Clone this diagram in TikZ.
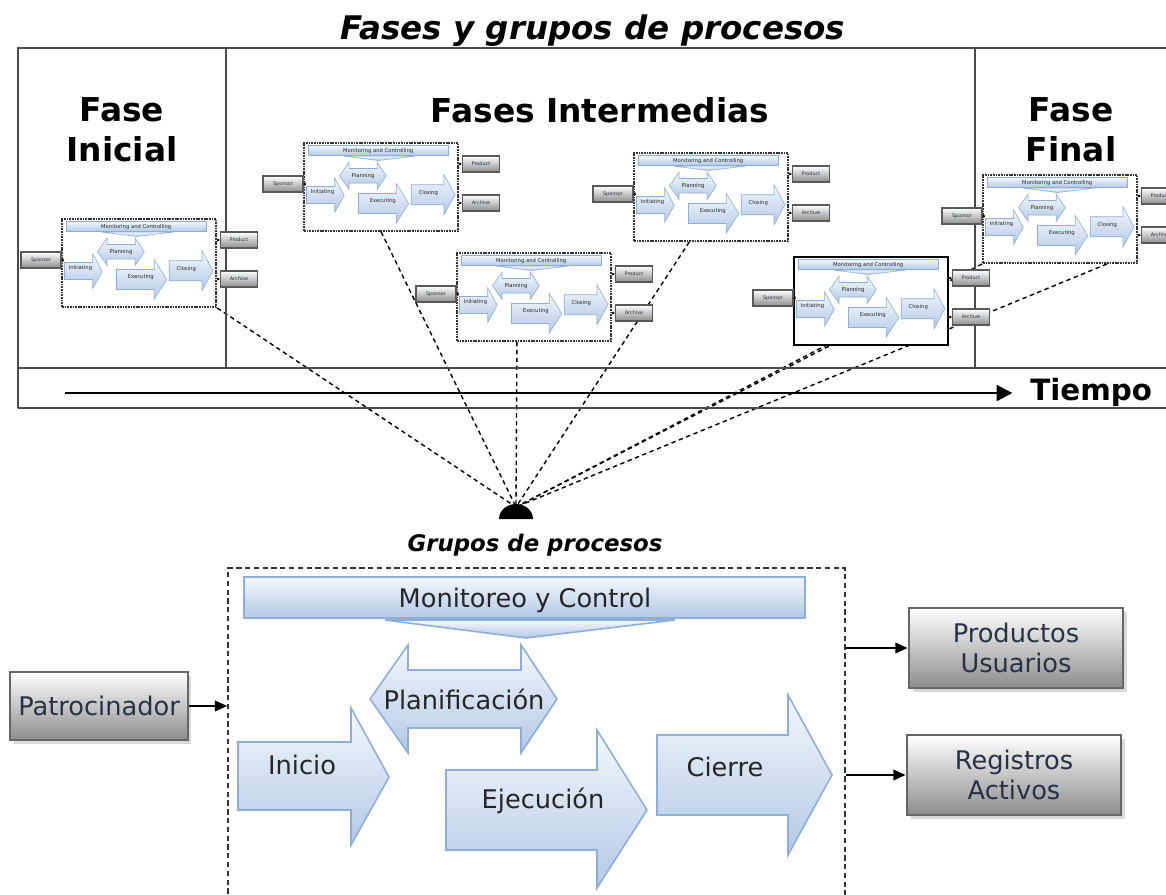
\documentclass[tikz,border=0pt]{standalone}
\usepackage{fontspec}
\setmainfont{DejaVu Sans}[ItalicFont={DejaVu Sans Oblique},BoldFont={DejaVu Sans Bold},BoldItalicFont={DejaVu Sans Bold Oblique}]
\usetikzlibrary{arrows.meta,shadows,fit,calc,backgrounds}
\definecolor{bborder}{HTML}{8EAEDA}
\definecolor{btop}{HTML}{F5F8FD}
\definecolor{bbot}{HTML}{B2C8E6}
\definecolor{gtxt}{HTML}{263246}
\definecolor{framec}{HTML}{4A4A4A}

\newcommand\pshapes[1]{%
  \path[blueshape] (16,9) rectangle (577,50);
  \path[blueshape] (157,52) -- (447,52) -- (298,70) -- cycle;
  \path[blueshape] (142,131) -- (180,77) -- (180,102) -- (293,102) -- (293,77) -- (329,131) -- (293,185) -- (293,160) -- (180,160) -- (180,185) -- cycle;
  \path[blueshape] (10,174) -- (123,174) -- (123,140) -- (161,209) -- (123,277) -- (123,242) -- (10,242) -- cycle;
  \path[blueshape] (218,202) -- (369,202) -- (369,162) -- (419,242) -- (369,320) -- (369,282) -- (218,282) -- cycle;
  \path[blueshape] (429,167) -- (560,167) -- (560,127) -- (604,207) -- (560,287) -- (560,247) -- (429,247) -- cycle;
  \coordinate (#1-barc) at (297,32);
  \coordinate (#1-planc) at (236,131);
  \coordinate (#1-inic) at (74,197);
  \coordinate (#1-ejec) at (315,233);
  \coordinate (#1-ciec) at (497,199);
  \coordinate (#1-nw) at (0,0);
  \coordinate (#1-se) at (617,352);
}

\newcommand\minigroup[4]{%
  \begin{scope}[shift={(#2,#3)}, scale=0.25, blueshape/.append style={line width=0.35pt}]
    \fill[white] (0,0) rectangle (617,352);
    \pshapes{#1}
    \node[fit=(#1-nw)(#1-se), inner sep=0pt, #4] (#1) {};
    \node[minilbl] (#1-l1) at (#1-barc) {Monitoring and Controlling};
    \node[minilbl] (#1-l2) at (#1-planc) {Planning};
    \node[minilbl] (#1-l3) at (#1-inic) {Initiating};
    \node[minilbl] (#1-l4) at (#1-ejec) {Executing};
    \node[minilbl] (#1-l5) at (#1-ciec) {Closing};
    \node[minibox, minimum width=0.8cm] (#1-sp) at (-84,164) {Sponsor};
    \node[minibox] (#1-pr) at (708,84) {Product};
    \node[minibox] (#1-ar) at (708,240) {Archive};
    \draw[miniarr] (#1-sp.east) -- (#1-sp.east -| #1.west);
    \draw[miniarr] (#1-pr.west -| #1.east) -- (#1-pr.west);
    \draw[miniarr] (#1-ar.west -| #1.east) -- (#1-ar.west);
  \end{scope}}

\begin{document}
\begin{tikzpicture}[x=0.02cm,y=-0.02cm,
  blueshape/.style={draw=bborder, line width=0.9pt, top color=btop, bottom color=bbot},
  frameline/.style={draw=framec, line width=1.5pt},
  heading/.style={font=\bfseries\fontsize{18.7}{22.7}\selectfont, align=center, inner sep=0pt},
  lbl/.style={font=\fontsize{14.6}{17.5}\selectfont, text=black!85, inner sep=0pt},
  minilbl/.style={font=\fontsize{3}{3.5}\selectfont, text=black!85, inner sep=0pt},
  minibox/.style={draw=black!65, line width=0.6pt, top color=white, bottom color=black!45, minimum width=0.74cm, minimum height=0.32cm, inner sep=0pt, font=\fontsize{2.8}{3}\selectfont, text=gtxt},
  miniarr/.style={draw=black, line width=0.5pt, -{Triangle[length=1.5pt,width=1.5pt]}},
  minidot/.style={draw=black!80, line width=1.1pt, dash pattern=on 1pt off 0.5pt},
  minisolid/.style={draw=black, line width=1.3pt},
  graybox/.style={draw=black!60, line width=1.6pt, top color=white, bottom color=black!45, font=\fontsize{14.6}{17.5}\selectfont, text=gtxt, align=center, inner sep=0pt, drop shadow={shadow xshift=2pt, shadow yshift=-2pt, opacity=0.3}},
  arr/.style={draw=black, line width=1.2pt, -{Triangle[length=7pt,width=6pt]}},
  conv/.style={draw=black, line width=0.8pt, dash pattern=on 2.5pt off 2pt}
]
\useasboundingbox (0,0) rectangle (1166,894);
\clip (0,0) rectangle (1166,894);

% title
\node[font=\bfseries\itshape\fontsize{18.5}{22}\selectfont, inner sep=0pt] (title) at (593,31) {Fases y grupos de procesos};

% frame
\draw[frameline] (18,408) -- (18,48) -- (1170,48);
\draw[frameline] (226,48) -- (226,368);
\draw[frameline] (975,48) -- (975,368);
\draw[frameline] (18,368) -- (1170,368);
\draw[frameline] (18,408) -- (1170,408);

% headings
\node[heading] (h1) at (122,130) {Fase\\Inicial};
\node[heading] (h2) at (600,110) {Fases Intermedias};
\node[heading] (h3) at (1071,130) {Fase\\Final};

% time axis
\node[font=\bfseries\fontsize{16.7}{20}\selectfont, anchor=west, inner sep=0pt] (tiempo) at (1030,392) {Tiempo};
\coordinate (t0) at (65,393);
\draw[line width=1.3pt, -{Triangle[length=9pt,width=9pt]}, shorten >=10pt] (t0) -- (t0 -| tiempo.west);

% mini process groups
\minigroup{A}{62}{219}{minidot}
\minigroup{B}{304}{143}{minidot}
\minigroup{C}{457}{253}{minidot}
\minigroup{D}{634}{153}{minidot}
\minigroup{E}{794}{257}{minisolid}
\minigroup{F}{983}{175}{minidot}

% convergence point
\coordinate (blob) at (516,507);
\fill[black] (499,519) arc[start angle=180, end angle=360, x radius=17, y radius=15] -- cycle;

\begin{scope}[on background layer]
  \draw[conv] (A.south east) -- (blob);
  \draw[conv] (B.south) -- (blob);
  \draw[conv] ($(C.south west)!0.39!(C.south east)$) -- (blob);
  \draw[conv] ($(D.south west)!0.36!(D.south east)$) -- (blob);
  \draw[conv] ($(E.south west)!0.23!(E.south east)$) -- (blob);
  \draw[conv] (F.south west) -- (blob);
  \draw[conv] ($(F.south west)!0.8!(F.south east)$) -- (blob);
\end{scope}

% big process group
\node[font=\bfseries\itshape\fontsize{13}{16}\selectfont, inner sep=0pt] (gtitle) at (535,545) {Grupos de procesos};
\begin{scope}[shift={(228,568)}]
  \pshapes{G}
  \node[fit=(G-nw)(G-se), inner sep=0pt, draw=black!80, line width=0.9pt, dash pattern=on 3pt off 2pt] (G) {};
\end{scope}
\node[lbl] (mc) at (G-barc) {Monitoreo y Control};
\node[lbl] (pl) at (G-planc) {Planificación};
\node[lbl] (ini) at (G-inic) {Inicio};
\node[lbl] (eje) at (G-ejec) {Ejecución};
\node[lbl] (cie) at (G-ciec) {Cierre};

% external boxes
\node[graybox, minimum width=3.56cm, minimum height=1.36cm] (patro) at (99,706) {Patrocinador};
\node[graybox, minimum width=4.28cm, minimum height=1.6cm] (prod) at (1016,648) {Productos\\Usuarios};
\node[graybox, minimum width=4.28cm, minimum height=1.6cm] (regi) at (1014,775) {Registros\\Activos};

\draw[arr] (patro.east) -- (patro.east -| G.west);
\draw[arr] (prod.west -| G.east) -- (prod.west);
\draw[arr] (regi.west -| G.east) -- (regi.west);
\end{tikzpicture}
\end{document}
